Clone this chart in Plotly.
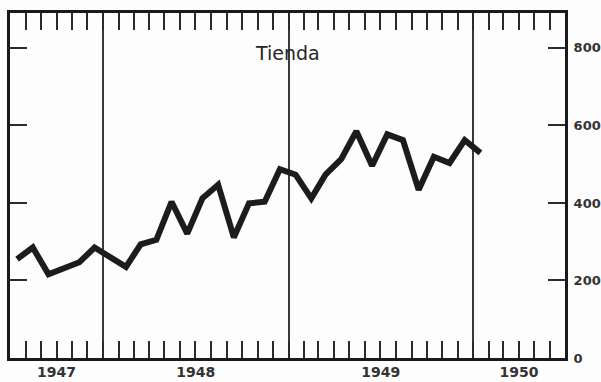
import plotly.graph_objects as go

# Ventas mensuales "Tienda", julio 1947 - enero 1950
meses = [
    "1947-07-15", "1947-08-15", "1947-09-15", "1947-10-15", "1947-11-15", "1947-12-15",
    "1948-01-15", "1948-02-15", "1948-03-15", "1948-04-15", "1948-05-15", "1948-06-15",
    "1948-07-15", "1948-08-15", "1948-09-15", "1948-10-15", "1948-11-15", "1948-12-15",
    "1949-01-15", "1949-02-15", "1949-03-15", "1949-04-15", "1949-05-15", "1949-06-15",
    "1949-07-15", "1949-08-15", "1949-09-15", "1949-10-15", "1949-11-15", "1949-12-15",
    "1950-01-15",
]
ventas = [
    255, 285, 216, 231, 247, 285,
    262, 235, 293, 305, 403, 321,
    412, 447, 311, 399, 403, 487,
    473, 412, 473, 513, 585, 496,
    577, 562, 434, 519, 503, 562,
    529,
]

# ejes
rango_x = ["1947-07-01", "1950-07-01"]
inicio_anios = ["1948-01-01", "1949-01-01", "1950-01-01"]
pos_etiquetas = ["1947-10-01", "1948-07-02", "1949-07-02", "1950-04-01"]
etiquetas_anios = ["1947", "1948", "1949", "1950"]
ticks_y = [0, 200, 400, 600, 800]
titulo = "Tienda"

fig = go.Figure()
fig.add_trace(go.Scatter(
    x=meses, y=ventas, mode="lines",
    line=dict(color="#1c1c1c", width=6, shape="linear"),
    hoverinfo="skip", showlegend=False,
))

font_ticks = dict(family="DejaVu Sans", size=13, color="#333333", weight="bold")

fig.update_layout(
    width=601, height=382,
    margin=dict(l=10, r=36, t=13, b=24),
    paper_bgcolor="#fdfdfd",
    plot_bgcolor="#fdfdfd",
    showlegend=False,
    # meses: marcas hacia dentro arriba y abajo
    xaxis=dict(
        type="date", range=rango_x, automargin=False,
        dtick="M1", tick0="1947-07-01",
        ticks="inside", ticklen=17, tickwidth=2, tickcolor="#2a2a2a",
        showticklabels=False, showgrid=False, zeroline=False,
        showline=True, linewidth=3, linecolor="#1a1a1a", mirror="ticks",
    ),
    # líneas verticales de cada año
    xaxis2=dict(
        type="date", range=rango_x, overlaying="x", automargin=False,
        tickmode="array", tickvals=inicio_anios,
        showgrid=True, gridcolor="#3a3a3a", gridwidth=1.5,
        ticks="", showticklabels=False, showline=False, zeroline=False,
    ),
    # etiquetas de año centradas
    xaxis3=dict(
        type="date", range=rango_x, overlaying="x", side="bottom", automargin=False,
        tickmode="array", tickvals=pos_etiquetas, ticktext=etiquetas_anios,
        ticks="", showgrid=False, showline=False, zeroline=False,
        tickfont=dict(family="DejaVu Sans", size=14, color="#333333", weight="bold"),
        ticklabelstandoff=4,
    ),
    yaxis=dict(
        range=[0, 890], side="right", automargin=False,
        tickmode="array", tickvals=ticks_y,
        ticks="inside", ticklen=17, tickwidth=2, tickcolor="#2a2a2a",
        showgrid=False, zeroline=False,
        showline=True, linewidth=3, linecolor="#1a1a1a", mirror="ticks",
        tickfont=font_ticks, ticklabelstandoff=3,
    ),
)

# trazas vacías para activar los ejes x2 y x3
fig.add_trace(go.Scatter(x=rango_x, y=[None, None], xaxis="x2", showlegend=False, hoverinfo="skip"))
fig.add_trace(go.Scatter(x=rango_x, y=[None, None], xaxis="x3", showlegend=False, hoverinfo="skip"))

fig.add_annotation(
    text=titulo, xref="paper", yref="paper", x=0.5, y=0.885,
    showarrow=False, xanchor="center", yanchor="middle",
    font=dict(family="DejaVu Sans", size=19, color="#262626"),
)

# sin margen en el cuerpo de la página para que la figura ocupe la ventana
fig.write_html(
    "out.html",
    config={"displayModeBar": False},
    post_script="document.body.style.margin='0';",
)
